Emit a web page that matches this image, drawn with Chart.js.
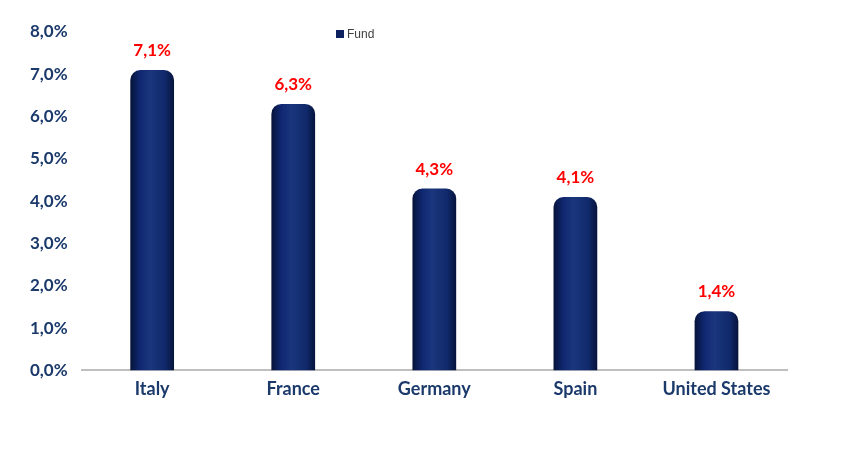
<!DOCTYPE html>
<html>
<head>
<meta charset="utf-8">
<script src="https://cdn.jsdelivr.net/npm/chart.js@4.4.0/dist/chart.umd.min.js"></script>
<style>
  html, body { margin: 0; padding: 0; background: #fff; }
  #wrap { width: 855px; height: 460px; }
</style>
</head>
<body>
<div id="wrap"><canvas id="chart" width="855" height="460"></canvas></div>
<script>
const countries = ["Italy", "France", "Germany", "Spain", "United States"];
const fundWeights = [7.1, 6.3, 4.3, 4.1, 1.4];
const yTicks = [0, 1, 2, 3, 4, 5, 6, 7, 8];

const navy = "#1b3a6b";
const barFraction = 0.31;

const fmt = (v, d) => v.toFixed(d).replace(".", ",") + "%";

// horizontal shading across each bar, like the original's tube look
function barFill(ctx) {
  const chart = ctx.chart;
  const x = chart.scales.x;
  if (!x || ctx.dataIndex === undefined) return "#112a66";
  const cx = x.getPixelForValue(ctx.dataIndex);
  const w = (x.width / countries.length) * barFraction;
  if (!isFinite(cx) || !isFinite(w) || w <= 0) return "#112a66";
  const g = chart.ctx.createLinearGradient(cx - w / 2, 0, cx + w / 2, 0);
  g.addColorStop(0, "#06133a");
  g.addColorStop(0.22, "#0f2770");
  g.addColorStop(0.45, "#1b367d");
  g.addColorStop(0.8, "#10296b");
  g.addColorStop(1, "#06133a");
  return g;
}

const valueLabels = {
  id: "valueLabels",
  afterDatasetsDraw(chart) {
    const { ctx } = chart;
    const meta = chart.getDatasetMeta(0);
    ctx.save();
    ctx.fillStyle = "#ff0000";
    ctx.font = "bold 17px Lato";
    ctx.textAlign = "center";
    ctx.textBaseline = "alphabetic";
    meta.data.forEach((bar, i) => {
      ctx.fillText(fmt(fundWeights[i], 1), bar.x, bar.y - 14);
    });
    ctx.restore();
  }
};

const fundLegend = {
  id: "fundLegend",
  afterDraw(chart) {
    const { ctx } = chart;
    const ds = chart.data.datasets[0];
    ctx.save();
    ctx.fillStyle = "#0d2160";
    ctx.fillRect(336, 30, 8, 8);
    ctx.fillStyle = "#404040";
    ctx.font = "12px 'Liberation Sans'";
    ctx.textBaseline = "middle";
    ctx.fillText(ds.label, 347, 34.5);
    ctx.restore();
  }
};

new Chart(document.getElementById("chart"), {
  type: "bar",
  data: {
    labels: countries,
    datasets: [{
      label: "Fund",
      data: fundWeights,
      backgroundColor: barFill,
      borderSkipped: "bottom",
      borderRadius: { topLeft: 10, topRight: 10 },
      categoryPercentage: 1,
      barPercentage: barFraction
    }]
  },
  options: {
    responsive: false,
    animation: false,
    layout: { padding: { left: 16, right: 68, top: 32, bottom: 52 } },
    plugins: {
      legend: { display: false },
      tooltip: { enabled: false }
    },
    scales: {
      x: {
        grid: { display: false, drawTicks: false },
        border: { display: true, color: "#bfbfbf", width: 2 },
        ticks: { color: navy, font: { family: "Lato", size: 18, weight: "bold" }, padding: 8 }
      },
      y: {
        min: 0,
        max: 8,
        afterBuildTicks(axis) { axis.ticks = yTicks.map(v => ({ value: v })); },
        grid: { display: false, drawTicks: false },
        border: { display: false },
        ticks: {
          color: navy,
          font: { family: "Lato", size: 17, weight: "bold" },
          padding: 14,
          callback: v => fmt(v, 1)
        }
      }
    }
  },
  plugins: [valueLabels, fundLegend]
});
</script>
</body>
</html>
